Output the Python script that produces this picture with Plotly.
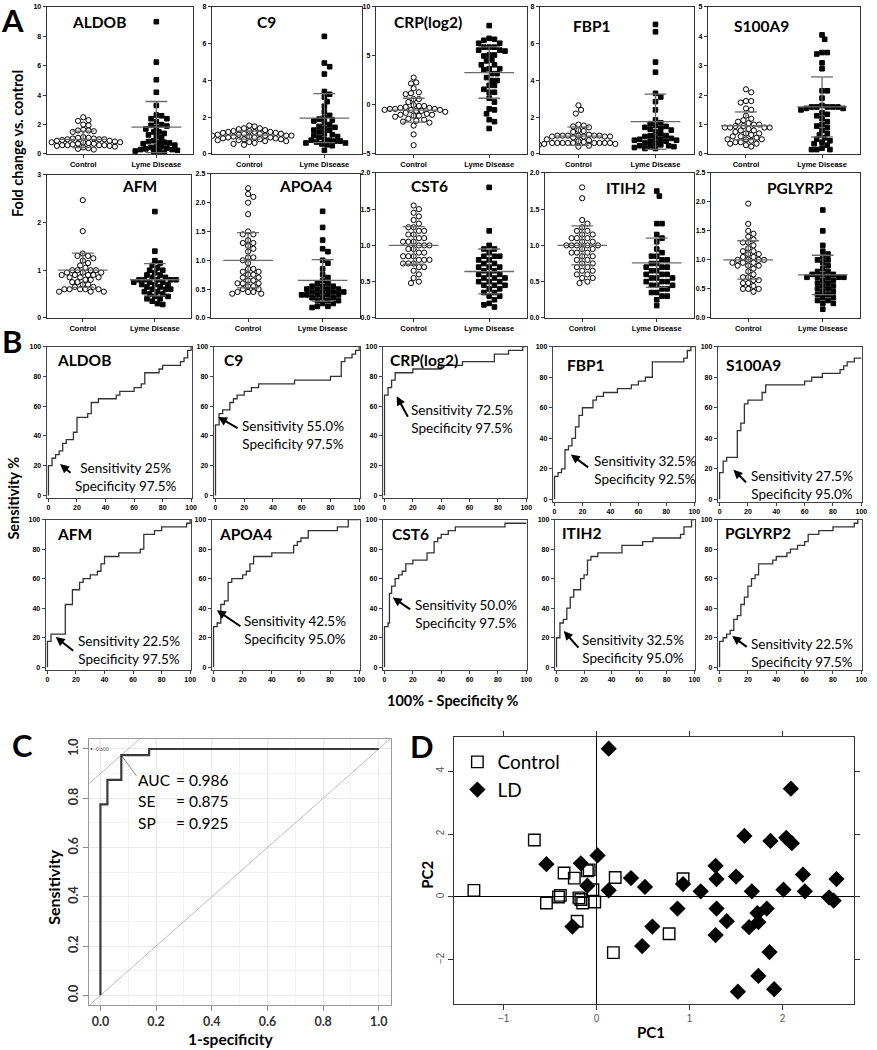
import numpy as np
import plotly.graph_objects as go

W, H = 877, 1050

# ---------------- Panel A data (fold change vs control) ----------------
genes = ["ALDOB", "C9", "CRP(log2)", "FBP1", "S100A9", "AFM", "APOA4", "CST6", "ITIH2", "PGLYRP2"]
group_labels = ["Control", "Lyme Disease"]

aldob_control = [2.5, 2.3, 2.25, 2.0, 1.95, 1.65, 1.6, 1.6, 1.55, 1.5, 1.15, 1.1, 1.1, 1.05, 1.05, 1.0, 1.0, 1.0, 0.95, 0.9,
                 0.9, 0.85, 0.8, 0.8, 0.8, 0.75, 0.7, 0.7, 0.65, 0.6, 0.6, 0.6, 0.6, 0.55, 0.55, 0.5, 0.45, 0.4, 0.35, 0.3]
aldob_ld = [9.0, 6.25, 5.05, 4.2, 3.3, 2.65, 2.6, 2.4, 2.4, 2.2, 2.0, 1.95, 1.9, 1.8, 1.7, 1.5, 1.5, 1.4, 1.3, 1.2,
            1.1, 0.9, 0.85, 0.8, 0.8, 0.75, 0.7, 0.6, 0.5, 0.5, 0.45, 0.4, 0.3, 0.3, 0.25, 0.2, 0.2, 0.15, 0.1, 0.35]
c9_control = [1.55, 1.5, 1.4, 1.4, 1.35, 1.3, 1.25, 1.25, 1.2, 1.2, 1.2, 1.15, 1.15, 1.1, 1.1, 1.1, 1.05, 1.05, 1.0, 1.0,
              1.0, 1.0, 0.95, 0.95, 0.9, 0.9, 0.9, 0.85, 0.85, 0.8, 0.8, 0.8, 0.75, 0.75, 0.7, 0.7, 0.65, 0.6, 0.55, 0.5]
c9_ld = [6.4, 4.95, 4.75, 4.35, 3.4, 3.25, 3.1, 2.85, 2.6, 2.3, 2.1, 2.0, 1.9, 1.85, 1.8, 1.7, 1.6, 1.5, 1.45, 1.4,
         1.3, 1.3, 1.2, 1.1, 1.05, 1.0, 0.95, 0.9, 0.8, 0.75, 0.75, 0.7, 0.7, 0.65, 0.6, 0.6, 0.55, 0.5, 0.45, 0.2]
crp_control = [2.8, 2.3, 2.2, 1.7, 1.3, 1.2, 1.1, 0.6, 0.6, 0.3, 0.0, -0.1, -0.1, -0.2, -0.3, -0.3, -0.4, -0.4, -0.4, -0.5,
               -0.5, -0.5, -0.6, -0.6, -0.7, -0.8, -0.9, -1.0, -1.0, -1.1, -1.1, -1.2, -1.4, -1.5, -1.6, -1.7, -1.8, -2.1, -3.0, -4.1]
crp_ld = [8.1, 6.8, 6.7, 6.6, 6.3, 6.3, 5.9, 5.9, 5.9, 5.6, 5.6, 5.5, 5.1, 5.1, 5.0, 4.6, 4.5, 4.1, 4.1, 3.7,
          3.7, 3.6, 3.2, 3.2, 2.8, 2.5, 2.5, 2.0, 2.0, 1.6, 1.3, 1.3, 0.7, 0.3, -0.4, -0.5, -0.9, -1.5, -1.7, -2.4]
fbp1_control = [2.65, 2.4, 2.2, 1.6, 1.55, 1.5, 1.45, 1.3, 1.25, 1.2, 1.05, 1.0, 1.0, 1.0, 1.0, 1.0, 1.0, 0.95, 0.95, 0.95,
                0.95, 0.9, 0.8, 0.75, 0.7, 0.65, 0.6, 0.6, 0.6, 0.6, 0.6, 0.6, 0.6, 0.6, 0.6, 0.55, 0.55, 0.5, 0.45, 0.4]
fbp1_ld = [7.05, 6.65, 5.0, 4.45, 3.3, 3.1, 2.85, 2.4, 1.85, 1.7, 1.65, 1.55, 1.5, 1.45, 1.4, 1.35, 1.3, 1.2, 1.1, 1.0,
           1.0, 0.95, 0.9, 0.85, 0.8, 0.8, 0.75, 0.75, 0.7, 0.7, 0.6, 0.6, 0.5, 0.45, 0.45, 0.4, 0.4, 0.35, 0.3, 0.3]
s100a9_control = [2.2, 2.1, 1.8, 1.8, 1.75, 1.55, 1.5, 1.3, 1.2, 1.15, 1.1, 1.05, 1.0, 1.0, 0.95, 0.95, 0.9, 0.9, 0.9, 0.9,
                  0.85, 0.8, 0.8, 0.75, 0.7, 0.7, 0.65, 0.6, 0.6, 0.55, 0.5, 0.5, 0.45, 0.4, 0.4, 0.35, 0.3, 0.25, 0.35, 0.5]
s100a9_ld = [4.05, 3.9, 3.45, 3.4, 3.45, 3.1, 2.9, 2.15, 2.15, 1.9, 1.65, 1.6, 1.6, 1.6, 1.6, 1.6, 1.55, 1.55, 1.5, 1.4,
             1.35, 1.3, 1.2, 1.1, 1.0, 0.95, 0.9, 0.8, 0.7, 0.65, 0.55, 0.5, 0.45, 0.4, 0.35, 0.3, 0.2, 0.15, 0.15, 0.15]
afm_control = [2.47, 1.82, 1.35, 1.3, 1.3, 1.25, 1.2, 1.15, 1.1, 1.05, 1.0, 1.0, 1.0, 1.0, 0.95, 0.95, 0.95, 0.9, 0.9, 0.9,
               0.85, 0.85, 0.8, 0.8, 0.75, 0.75, 0.7, 0.7, 0.65, 0.65, 0.6, 0.6, 0.6, 0.6, 0.55, 0.55, 0.55, 0.6, 0.85, 0.9]
afm_ld = [2.23, 1.4, 1.2, 1.15, 1.1, 1.05, 1.0, 1.0, 0.95, 0.9, 0.9, 0.85, 0.85, 0.8, 0.8, 0.8, 0.8, 0.8, 0.75, 0.75,
          0.7, 0.7, 0.7, 0.65, 0.65, 0.6, 0.6, 0.55, 0.55, 0.5, 0.5, 0.45, 0.45, 0.4, 0.4, 0.35, 0.3, 0.28, 0.6, 0.75]
apoa4_control = [2.25, 2.15, 2.1, 2.0, 1.8, 1.5, 1.45, 1.45, 1.35, 1.3, 1.3, 1.25, 1.2, 1.15, 1.05, 1.05, 1.0, 0.95, 0.85, 0.85,
                 0.8, 0.8, 0.75, 0.75, 0.7, 0.7, 0.65, 0.65, 0.6, 0.6, 0.6, 0.55, 0.55, 0.5, 0.5, 0.45, 0.45, 0.45, 0.42, 0.42]
apoa4_ld = [1.85, 1.57, 1.35, 1.2, 1.15, 1.0, 0.95, 0.85, 0.75, 0.7, 0.65, 0.6, 0.6, 0.55, 0.55, 0.55, 0.5, 0.5, 0.5, 0.5,
            0.45, 0.45, 0.45, 0.4, 0.4, 0.4, 0.4, 0.4, 0.35, 0.35, 0.35, 0.3, 0.3, 0.3, 0.25, 0.25, 0.2, 0.2, 0.18, 0.45]
cst6_control = [1.55, 1.5, 1.45, 1.4, 1.35, 1.3, 1.25, 1.2, 1.2, 1.15, 1.15, 1.1, 1.1, 1.05, 1.05, 1.05, 1.0, 1.0, 1.0, 0.95,
                0.95, 0.9, 0.9, 0.85, 0.85, 0.85, 0.8, 0.8, 0.8, 0.75, 0.75, 0.75, 0.7, 0.7, 0.65, 0.6, 0.55, 0.5, 0.48, 1.25]
cst6_ld = [1.8, 1.2, 1.0, 0.95, 0.95, 0.9, 0.85, 0.85, 0.8, 0.8, 0.75, 0.75, 0.7, 0.7, 0.7, 0.65, 0.65, 0.6, 0.6, 0.6,
           0.55, 0.55, 0.55, 0.5, 0.5, 0.5, 0.45, 0.45, 0.45, 0.4, 0.4, 0.35, 0.35, 0.3, 0.3, 0.25, 0.2, 0.18, 0.15, 0.85]
itih2_control = [1.8, 1.65, 1.35, 1.3, 1.25, 1.2, 1.15, 1.15, 1.1, 1.1, 1.1, 1.05, 1.05, 1.0, 1.0, 1.0, 1.0, 0.95, 0.95, 0.9,
                 0.9, 0.9, 0.85, 0.85, 0.8, 0.8, 0.75, 0.75, 0.7, 0.7, 0.65, 0.65, 0.6, 0.6, 0.55, 0.55, 0.5, 0.48, 1.2, 1.0]
itih2_ld = [1.75, 1.68, 1.3, 1.3, 1.15, 1.1, 1.05, 0.95, 0.9, 0.85, 0.8, 0.8, 0.75, 0.75, 0.7, 0.7, 0.7, 0.65, 0.65, 0.6,
            0.6, 0.6, 0.55, 0.55, 0.55, 0.5, 0.5, 0.5, 0.45, 0.45, 0.45, 0.4, 0.4, 0.35, 0.35, 0.3, 0.3, 0.25, 0.17, 0.85]
pglyrp2_control = [1.97, 1.62, 1.5, 1.45, 1.4, 1.35, 1.3, 1.3, 1.25, 1.2, 1.15, 1.15, 1.1, 1.1, 1.05, 1.05, 1.0, 1.0, 1.0, 0.95,
                   0.95, 0.95, 0.9, 0.9, 0.9, 0.85, 0.8, 0.75, 0.7, 0.7, 0.65, 0.65, 0.6, 0.6, 0.55, 0.5, 0.5, 0.5, 0.45, 1.0]
pglyrp2_ld = [1.86, 1.5, 1.25, 1.15, 1.05, 1.0, 1.0, 0.95, 0.9, 0.85, 0.8, 0.8, 0.75, 0.75, 0.75, 0.7, 0.7, 0.7, 0.7, 0.65,
              0.65, 0.6, 0.6, 0.55, 0.55, 0.5, 0.5, 0.45, 0.45, 0.4, 0.4, 0.35, 0.35, 0.3, 0.3, 0.25, 0.25, 0.15, 0.7, 1.1]

control_values = [aldob_control, c9_control, crp_control, fbp1_control, s100a9_control,
                  afm_control, apoa4_control, cst6_control, itih2_control, pglyrp2_control]
ld_values = [aldob_ld, c9_ld, crp_ld, fbp1_ld, s100a9_ld, afm_ld, apoa4_ld, cst6_ld, itih2_ld, pglyrp2_ld]

control_mean = [1.0, 1.03, -0.53, 0.97, 0.96, 1.0, 1.0, 1.0, 1.0, 1.0]
control_sd = [0.56, 0.22, 1.22, 0.5, 0.47, 0.36, 0.48, 0.26, 0.27, 0.33]
ld_mean = [1.83, 1.95, 3.31, 1.76, 1.6, 0.8, 0.65, 0.64, 0.76, 0.74]
ld_sd = [1.74, 1.33, 2.62, 1.5, 1.02, 0.34, 0.36, 0.31, 0.34, 0.34]

a_yticks = [[0, 2, 4, 6, 8, 10], [0, 2, 4, 6, 8], [-5, 0, 5, 10], [0, 2, 4, 6, 8], [0, 1, 2, 3, 4, 5],
            [0, 1, 2, 3], [0, 0.5, 1, 1.5, 2, 2.5], [0, 0.5, 1, 1.5, 2], [0, 0.5, 1, 1.5, 2], [0, 0.5, 1, 1.5, 2, 2.5]]

# ---------------- Panel B data (ROC curves, % units) ----------------
aldob_fpr = [0, 0, 2.5, 5, 7.5, 10, 12.5, 17.5, 20, 20, 27.5, 30, 35, 47.5, 50, 60, 65, 67.5, 77.5, 80, 92.5, 95, 97.5, 100]
aldob_tpr = [0, 20, 25, 27.5, 30, 35, 37.5, 42.5, 45, 52.5, 55, 62.5, 65, 67.5, 70, 72.5, 75, 82.5, 85, 87.5, 90, 92.5, 97.5, 100]
c9_fpr = [0, 0, 2.5, 5, 10, 12.5, 15, 20, 25, 30, 55, 80, 87.5, 90, 95, 97.5, 100]
c9_tpr = [0, 47.5, 55, 57.5, 62.5, 65, 67.5, 70, 72.5, 75, 77.5, 80, 90, 92.5, 95, 97.5, 100]
crp_fpr = [0, 0, 2.5, 5, 7.5, 20, 40, 55, 77.5, 87.5, 97.5, 100]
crp_tpr = [0, 67.5, 72.5, 77.5, 82.5, 85, 87.5, 90, 95, 97.5, 100, 100]
fbp1_fpr = [0, 0, 2.5, 5, 7.5, 10, 12.5, 15, 17.5, 20, 27.5, 30, 35, 45, 55, 60, 65, 70, 92.5, 95, 97.5, 100]
fbp1_tpr = [0, 15, 17.5, 20, 32.5, 35, 40, 47.5, 55, 60, 65, 67.5, 70, 72.5, 75, 77.5, 80, 90, 92.5, 97.5, 100, 100]
s100a9_fpr = [0, 0, 2.5, 5, 12.5, 15, 17.5, 20, 30, 32.5, 60, 65, 72.5, 85, 87.5, 90, 95, 100]
s100a9_tpr = [0, 17.5, 25, 27.5, 45, 50, 62.5, 65, 70, 75, 77.5, 80, 82.5, 85, 87.5, 90, 92.5, 92.5]
afm_fpr = [0, 0, 2.5, 12.5, 17.5, 22.5, 25, 30, 35, 37.5, 40, 50, 65, 67.5, 75, 80, 97.5, 100]
afm_tpr = [0, 17.5, 22.5, 42.5, 52.5, 57.5, 60, 62.5, 65, 70, 75, 77.5, 80, 90, 92.5, 95, 97.5, 100]
apoa4_fpr = [0, 0, 2.5, 5, 7.5, 10, 12.5, 20, 22.5, 25, 27.5, 40, 55, 57.5, 60, 65, 85, 92.5, 100]
apoa4_tpr = [0, 27.5, 30, 42.5, 45, 57.5, 60, 62.5, 65, 70, 75, 77.5, 82.5, 85, 87.5, 92.5, 95, 100, 100]
cst6_fpr = [0, 0, 2.5, 3.5, 5, 7.5, 10, 12.5, 15, 20, 30, 35, 37.5, 40, 45, 50, 85, 100]
cst6_tpr = [0, 27.5, 30, 50, 55, 60, 62.5, 65, 70, 72.5, 77.5, 85, 87.5, 90, 92.5, 95, 97.5, 97.5]
itih2_fpr = [0, 0, 2.5, 5, 7.5, 10, 12.5, 17.5, 20, 22.5, 25, 30, 47.5, 62.5, 70, 90, 92.5, 98, 100]
itih2_tpr = [0, 20, 30, 32.5, 40, 47.5, 52.5, 60, 62.5, 72.5, 75, 77.5, 82.5, 85, 87.5, 90, 95, 100, 100]
pglyrp2_fpr = [0, 0, 2.5, 5, 7.5, 10, 12.5, 15, 17.5, 20, 22.5, 25, 27.5, 37.5, 40, 47.5, 50, 55, 60, 62.5, 70, 80, 95, 97.5]
pglyrp2_tpr = [0, 17.5, 20, 22.5, 25, 32.5, 35, 42.5, 47.5, 55, 60, 62.5, 70, 72.5, 75, 77.5, 80, 82.5, 85, 90, 92.5, 95, 97.5, 100]

roc_fpr = [aldob_fpr, c9_fpr, crp_fpr, fbp1_fpr, s100a9_fpr, afm_fpr, apoa4_fpr, cst6_fpr, itih2_fpr, pglyrp2_fpr]
roc_tpr = [aldob_tpr, c9_tpr, crp_tpr, fbp1_tpr, s100a9_tpr, afm_tpr, apoa4_tpr, cst6_tpr, itih2_tpr, pglyrp2_tpr]
roc_sensitivity = ["25%", "55.0%", "72.5%", "32.5%", "27.5%", "22.5%", "42.5%", "50.0%", "32.5%", "22.5%"]
roc_specificity = ["97.5%", "97.5%", "97.5%", "92.5%", "95.0%", "97.5%", "95.0%", "97.5%", "95.0%", "97.5%"]
b_ticks = [0, 20, 40, 60, 80, 100]

# ---------------- Panel C data (combined ROC) ----------------
c_fpr = [0, 0, 0.025, 0.025, 0.075, 0.075, 0.175, 0.175, 1.0]
c_tpr = [0, 0.775, 0.775, 0.875, 0.875, 0.975, 0.975, 1.0, 1.0]
c_best = (0.075, 0.975)
c_labels = ["AUC", "SE", "SP"]
c_values = ["= 0.986", "= 0.875", "= 0.925"]
c_ticks = [0.0, 0.2, 0.4, 0.6, 0.8, 1.0]

# ---------------- Panel D data (PCA) ----------------
pc1_control = [-1.32, -0.67, -0.54, -0.41, -0.39, -0.35, -0.24, -0.21, -0.19, -0.17, -0.15, -0.10, -0.08, -0.04, -0.02,
               0.20, 0.18, 0.78, 0.93]
pc2_control = [0.21, 1.81, -0.19, 0.0, 0.05, 0.76, 0.60, -0.77, -0.03, -0.08, -0.19, 0.83, 0.86, 0.23, -0.16,
               0.62, -1.77, -1.17, 0.58]
pc1_ld = [0.13, -0.54, -0.26, -0.17, -0.10, 0.01, 0.13, 0.37, 0.52, 0.60, 0.49, 0.87, 0.93, 1.12, 1.28, 1.29, 1.29,
          1.28, 1.40, 1.50, 1.59, 1.52, 1.64, 1.67, 1.73, 1.74, 1.74, 1.83, 1.86, 1.87, 1.91, 2.01, 2.04, 2.10, 2.09,
          2.22, 2.24, 2.50, 2.55, 2.58]
pc2_ld = [4.71, 1.04, -0.94, 1.07, 0.36, 1.32, 0.21, 0.60, 0.32, -0.94, -1.56, -0.37, 0.41, 0.18, 0.99, 0.57, -0.37,
          -1.21, -0.77, 0.65, 1.94, -3.01, -0.96, 0.18, -0.51, -0.80, -2.51, -0.37, -1.75, 1.78, -2.93, 0.23, 1.88,
          1.71, 3.44, 0.71, 0.18, -0.01, -0.12, 0.57]
d_ticks_x = [-1, 0, 1, 2]
d_ticks_y = [-2, 0, 2, 4]

# ---------------- layout geometry (pixels) ----------------
A_boxes = [(47, 3, 194, 151), (213, 3, 364, 151), (378, 3, 530, 151), (543, 3, 698, 151), (712, 3, 865, 151),
           (47, 172, 192, 316), (212, 171, 362, 316), (378, 170, 530, 316), (548, 170, 698, 316), (715, 170, 865, 316)]
A_title_pos = [(100, 18), (268, 18), (430, 18), (595, 22), (766, 22),
               (140, 183), (307, 183), (432, 183), (629, 185), (805, 185)]
B_boxes = [(47, 345, 193, 497), (215, 345, 362, 497), (385, 345, 530, 497), (556, 345, 699, 501), (722, 345, 867, 501),
           (46, 519, 192, 670), (213, 519, 362, 670), (385, 519, 530, 670), (558, 519, 699, 670), (722, 519, 867, 670)]
B_title_pos = [(55, 358), (223, 358), (390, 358), (568, 363), (728, 363),
               (55, 534), (218, 534), (392, 534), (563, 533), (727, 533)]
B_arrow = [(8.1, 21.1, 12, 10), (1.8, 52.7, 21, 12), (8.6, 66.7, 12, 22), (11.6, 29.4, 19, 14), (9.8, 19.4, 14, 14),
           (5.8, 20.5, 19, 15), (2.3, 38.6, 25, 17), (5.8, 47.3, 19, 13), (5.3, 24.5, 16, 18), (8.9, 21.2, 16, 12)]
B_text_pos = [(73, 476), (241, 434), (411, 418), (595, 469), (753, 484),
              (76, 650), (243, 630), (415, 614), (583, 649), (753, 653)]
C_box = (90, 740, 393, 1008)
D_box = (457, 738, 859, 1007)

TITLE_FONT = "Lato"
TICK_FONT = "Liberation Sans"


def dom(box):
    l, t, r, b = box
    return [l / W, r / W], [1 - b / H, 1 - t / H]


def P(x, y):
    return x / W, 1 - y / H


def xk(i):
    return "xaxis" if i == 1 else f"xaxis{i}"


def yk(i):
    return "yaxis" if i == 1 else f"yaxis{i}"


def xr(i):
    return "x" if i == 1 else f"x{i}"


def yr(i):
    return "y" if i == 1 else f"y{i}"


def swarm(vals, ypx, d):
    vals = np.asarray(vals, float)
    order = np.argsort(-vals, kind="stable")
    cands = [0.0]
    for k in range(1, 60):
        cands += [k * d * 0.5, -k * d * 0.5]
    placed = []
    off = np.zeros(len(vals))
    for i in order:
        y = vals[i] * ypx
        for c in cands:
            if all((c - px) ** 2 + (y - py) ** 2 >= (d * 0.97) ** 2 for px, py in placed):
                off[i] = c
                placed.append((c, y))
                break
    return off


fig = go.Figure()
layout = dict(width=W, height=H, margin=dict(l=0, r=0, t=0, b=0, pad=0), paper_bgcolor="white",
              plot_bgcolor="white", showlegend=True)
annotations = []


def text(x, y, s, size, bold=False, family=TITLE_FONT, xanchor="center", angle=0, color="black"):
    px, py = P(x, y)
    annotations.append(dict(x=px, y=py, xref="paper", yref="paper", text=s, showarrow=False,
                            xanchor=xanchor, yanchor="middle", textangle=angle,
                            font=dict(family=family, size=size, color=color, weight="bold" if bold else "normal")))


tick_font = dict(family=TICK_FONT, size=7, color="black", weight="bold")

# ---------------- Panel A ----------------
for p in range(10):
    i = p + 1
    xd, yd = dom(A_boxes[p])
    ticks = a_yticks[p]
    yrange = [ticks[0], ticks[-1]]
    box_w = A_boxes[p][2] - A_boxes[p][0]
    box_h = A_boxes[p][3] - A_boxes[p][1]
    xpx = box_w / 2.0
    ypx = box_h / (yrange[1] - yrange[0])
    is_dec = any(isinstance(t, float) for t in ticks)
    layout[xk(i)] = dict(domain=xd, range=[0.5, 2.5], anchor=yr(i), tickvals=[1, 2], ticktext=group_labels,
                         showline=True, mirror=True, linecolor="#333", linewidth=1.2, ticks="outside", ticklen=3,
                         tickcolor="#333", tickfont=dict(tick_font, size=7.5), showgrid=False, zeroline=False)
    layout[yk(i)] = dict(domain=yd, range=yrange, anchor=xr(i), tickvals=ticks,
                         tickformat=".1f" if is_dec else "d",
                         showline=True, mirror=True, linecolor="#333", linewidth=1.2, ticks="outside", ticklen=3,
                         tickcolor="#333", tickfont=tick_font, showgrid=False, zeroline=False)
    for g, (vals, sym, size, mean, sd) in enumerate([
        (control_values[p], "circle-open", 5.2, control_mean[p], control_sd[p]),
        (ld_values[p], "square", 4.6, ld_mean[p], ld_sd[p])]):
        c = g + 1
        off = swarm(vals, ypx, 5.3) / xpx
        fig.add_trace(go.Scatter(x=c + off, y=vals, mode="markers", xaxis=xr(i), yaxis=yr(i), showlegend=False,
                                 marker=dict(symbol=sym, size=size, color="black", line=dict(color="black", width=1)),
                                 hoverinfo="skip"))
        hw, cw = 25 / xpx, 11 / xpx
        lx = [c - hw, c + hw, None, c - cw, c + cw, None, c - cw, c + cw, None, c, c]
        ly = [mean, mean, None, mean + sd, mean + sd, None, mean - sd, mean - sd, None, mean - sd, mean + sd]
        fig.add_trace(go.Scatter(x=lx, y=ly, mode="lines", xaxis=xr(i), yaxis=yr(i), showlegend=False,
                                 line=dict(color="#6a6a6a", width=1.3), hoverinfo="skip"))
    text(A_title_pos[p][0], A_title_pos[p][1], genes[p], 15.5, bold=True)

# ---------------- Panel B ----------------
for p in range(10):
    i = p + 11
    xd, yd = dom(B_boxes[p])
    layout[xk(i)] = dict(domain=xd, range=[-1.2, 100.5], anchor=yr(i), tickvals=b_ticks,
                         showline=True, mirror=True, linecolor="#444", linewidth=1.2, ticks="outside", ticklen=3,
                         tickcolor="#444", tickfont=tick_font, showgrid=False, zeroline=False)
    layout[yk(i)] = dict(domain=yd, range=[-1.5, 100], anchor=xr(i), tickvals=b_ticks,
                         showline=True, mirror=True, linecolor="#444", linewidth=1.2, ticks="outside", ticklen=3,
                         tickcolor="#444", tickfont=tick_font, showgrid=False, zeroline=False)
    fig.add_trace(go.Scatter(x=roc_fpr[p], y=roc_tpr[p], mode="lines", line_shape="hv", xaxis=xr(i), yaxis=yr(i),
                             showlegend=False, line=dict(color="#333", width=1.3), hoverinfo="skip"))
    hx, hy, ax, ay = B_arrow[p]
    annotations.append(dict(x=hx, y=hy, xref=xr(i), yref=yr(i), ax=ax, ay=ay, text="", showarrow=True,
                            arrowhead=2, arrowsize=0.9, arrowwidth=2, arrowcolor="black"))
    tx, ty = B_text_pos[p]
    text(tx, ty, f"Sensitivity {roc_sensitivity[p]}<br>Specificity {roc_specificity[p]}", 13.5, xanchor="left")
    text(B_title_pos[p][0], B_title_pos[p][1], genes[p], 15.5, bold=True, xanchor="left")

# ---------------- Panel C ----------------
i = 21
xd, yd = dom(C_box)
common_c = dict(showline=True, mirror=True, linecolor="#9a9a9a", linewidth=1, ticks="outside", ticklen=5,
                tickcolor="#8a8a8a", tickfont=dict(family=TITLE_FONT, size=12.5, color="#333", weight="bold"),
                showgrid=True, gridcolor="#e9e9e9", gridwidth=1, zeroline=False, tickvals=c_ticks,
                tickformat=".1f",
                minor=dict(dtick=0.1, tick0=0, showgrid=True, gridcolor="#f3f3f3", ticks=""))
layout[xk(i)] = dict(common_c, domain=xd, range=[-0.0393, 1.0429], anchor=yr(i))
layout[yk(i)] = dict(common_c, domain=yd, range=[-0.0403, 1.0403], anchor=xr(i), tickangle=-90)
fig.add_trace(go.Scatter(x=[-0.05, 1.05], y=[-0.05, 1.05], mode="lines", xaxis=xr(i), yaxis=yr(i),
                         showlegend=False, line=dict(color="#bdbdbd", width=1), hoverinfo="skip"))
bx, by = c_best
fig.add_trace(go.Scatter(x=[bx - 0.13, bx + 0.08], y=[by - 0.13, by + 0.08], mode="lines", xaxis=xr(i), yaxis=yr(i),
                         showlegend=False, line=dict(color="#bdbdbd", width=1), hoverinfo="skip"))
fig.add_trace(go.Scatter(x=[bx, bx + 0.055], y=[by, by - 0.085], mode="lines", xaxis=xr(i), yaxis=yr(i),
                         showlegend=False, line=dict(color="#8a8a8a", width=1), hoverinfo="skip"))
fig.add_trace(go.Scatter(x=c_fpr, y=c_tpr, mode="lines", xaxis=xr(i), yaxis=yr(i), showlegend=False,
                         line=dict(color="#3a3a3a", width=2.2), hoverinfo="skip"))
for k in range(3):
    text(137, 781 + 21.5 * k, c_labels[k], 15.5, xanchor="left")
    text(175, 781 + 21.5 * k, c_values[k], 15.5, xanchor="left")
text(89, 750, "• -0.600", 5, xanchor="left", color="#555")
text(232, 1042, "1-specificity", 15.5, bold=True)
text(53, 889, "Sensitivity", 16, bold=True, angle=-90)

# ---------------- Panel D ----------------
i = 22
xd, yd = dom(D_box)
common_d = dict(showline=True, mirror="ticks", linecolor="#333", linewidth=1, ticks="outside", ticklen=5,
                tickcolor="#333", tickfont=dict(family=TICK_FONT, size=10, color="#555"), showgrid=False,
                zeroline=True, zerolinecolor="black", zerolinewidth=1.3)
layout[xk(i)] = dict(common_d, domain=xd, range=[-1.53, 2.77], anchor=yr(i), tickvals=d_ticks_x)
layout[yk(i)] = dict(common_d, domain=yd, range=[-3.41, 5.08], anchor=xr(i), tickvals=d_ticks_y, tickangle=-90)
fig.add_trace(go.Scatter(x=pc1_control, y=pc2_control, mode="markers", name="Control", xaxis=xr(i), yaxis=yr(i),
                         marker=dict(symbol="square-open", size=11.5, color="black", line=dict(color="black", width=1.4)),
                         hoverinfo="skip"))
fig.add_trace(go.Scatter(x=pc1_ld, y=pc2_ld, mode="markers", name="LD", xaxis=xr(i), yaxis=yr(i),
                         marker=dict(symbol="diamond", size=12.5, color="black"), hoverinfo="skip"))
text(655, 1035, "PC1", 15, bold=True)
text(430, 877, "PC2", 15, bold=True, angle=-90)

layout["legend"] = dict(x=460 / W, y=1 - 744 / H, xanchor="left", yanchor="top", bgcolor="rgba(0,0,0,0)",
                        font=dict(family=TITLE_FONT, size=19, color="black"), tracegroupgap=0)

# ---------------- global labels ----------------
text(13, 16, "A", 31, bold=True)
text(12, 339, "B", 31, bold=True)
text(23, 746, "C", 31, bold=True)
text(424, 747, "D", 31, bold=True)
text(17, 140, "Fold change vs. control", 14.5, bold=True, angle=-90)
text(14, 497, "Sensitivity %", 14.5, bold=True, angle=-90)
text(456, 701, "100% - Specificity %", 14.5, bold=True)

layout["annotations"] = annotations
fig.update_layout(**layout)

fig.write_html("out.html", config={"displayModeBar": False},
               post_script="document.body.style.margin='0';document.body.style.overflow='hidden';")
